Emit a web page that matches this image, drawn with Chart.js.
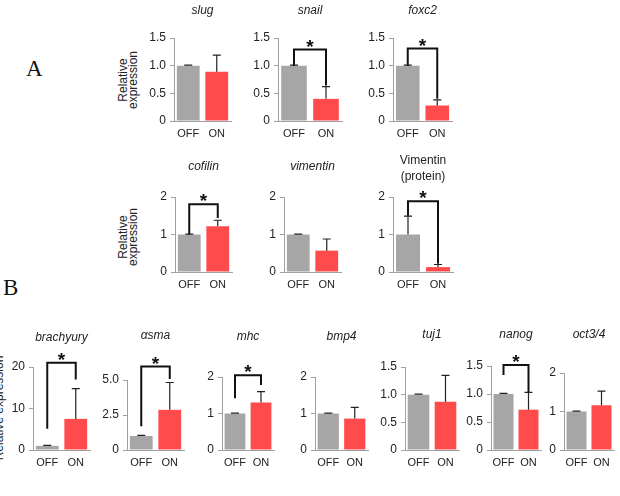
<!DOCTYPE html>
<html lang="en">
<head>
    <meta charset="UTF-8">
    <title>Relative expression OFF / ON</title>
    <script src="https://cdn.jsdelivr.net/npm/chart.js"></script>
    <style>
        body {
            margin: 0;
            background: #fff;
            font-family: 'Liberation Sans', Arial, sans-serif;
        }
        #fig {
            position: relative;
            width: 620px;
            height: 496px;
            overflow: hidden;
            background: #fff;
        }
        #fig canvas {
            position: absolute;
        }
        .letter {
            position: absolute;
            font-family: 'Liberation Serif', 'DejaVu Serif', serif;
            font-size: 23px;
            color: #111;
        }
        .ylab {
            position: absolute;
            width: 120px;
            text-align: center;
            font-size: 12px;
            line-height: 10px;
            color: #222;
            transform: translate(-50%, -50%) rotate(-90deg);
            white-space: nowrap;
        }
    </style>
</head>
<body>
<div id="fig">
    <div class="letter" style="left:26px; top:56px;">A</div>
    <div class="letter" style="left:3px; top:275px;">B</div>
    <div class="ylab" style="left:128px; top:80px;">Relative<br>expression</div>
    <div class="ylab" style="left:128px; top:237px;">Relative<br>expression</div>
    <div class="ylab" style="left:-1px; top:408px;">Relative expression</div>
</div>
<script>
    const groups = ['OFF', 'ON'];

    // y axis ticks
    const ticks15 = [0, 0.5, 1.0, 1.5];
    const labels15 = ['0', '0.5', '1.0', '1.5'];
    const ticks2 = [0, 1, 2];
    const labels2 = ['0', '1', '2'];
    const ticks20 = [0, 10, 20];
    const labels20 = ['0', '10', '20'];
    const ticks5 = [0, 2.5, 5.0];
    const labels5 = ['0', '2.5', '5.0'];

    // panel A: mean, error (upper), bracket [left end, top, right end]
    const slugMean = [1.0, 0.89];
    const slugErr = [0.01, 0.30];
    const snailMean = [1.0, 0.40];
    const snailErr = [0.01, 0.22];
    const snailBracket = [1.0, 1.29, 0.64];
    const foxc2Mean = [1.0, 0.28];
    const foxc2Err = [0.01, 0.10];
    const foxc2Bracket = [1.0, 1.31, 0.40];
    const cofilinMean = [1.0, 1.22];
    const cofilinErr = [0.01, 0.16];
    const cofilinBracket = [1.0, 1.81, 1.44];
    const vimentinMean = [1.0, 0.57];
    const vimentinErr = [0.01, 0.31];
    const vimProtMean = [1.0, 0.13];
    const vimProtErr = [0.49, 0.07];
    const vimProtBracket = [1.5, 1.89, 0.22];

    // panel B
    const brachyuryMean = [1.0, 7.5];
    const brachyuryErr = [0.1, 7.3];
    const brachyuryBracket = [5.1, 21, 17];
    const asmaMean = [1.0, 2.87];
    const asmaErr = [0.05, 1.95];
    const asmaBracket = [1.7, 5.96, 5.07];
    const mhcMean = [1.0, 1.3];
    const mhcErr = [0.01, 0.3];
    const mhcBracket = [1.42, 2.05, 1.78];
    const bmp4Mean = [1.0, 0.86];
    const bmp4Err = [0.01, 0.31];
    const tuj1Mean = [1.0, 0.87];
    const tuj1Err = [0.01, 0.48];
    const nanogMean = [1.0, 0.72];
    const nanogErr = [0.01, 0.31];
    const nanogBracket = [1.34, 1.52, 1.03];
    const oct4Mean = [1.0, 1.16];
    const oct4Err = [0.01, 0.37];

    const GRAY = '#a6a6a6';
    const RED = '#ff4b4b';
    const AXIS = '#a0a0a0';
    const INK = '#222';
    const FONT = "'Liberation Sans', Arial, sans-serif";
    const Y_AXIS_W = 30;
    const X_AXIS_H = 20;

    // placement of each small chart (pixels in the figure)
    const panels = [
        { title: ['slug'], mean: slugMean, err: slugErr, ticks: ticks15, labels: labels15, axisX: 174, endX: 231, topPx: 38, bottomPx: 121, titleY: [11] },
        { title: ['snail'], mean: snailMean, err: snailErr, bracket: snailBracket, ticks: ticks15, labels: labels15, axisX: 278, endX: 342, topPx: 38, bottomPx: 121, titleY: [11] },
        { title: ['foxc2'], mean: foxc2Mean, err: foxc2Err, bracket: foxc2Bracket, ticks: ticks15, labels: labels15, axisX: 393, endX: 452, topPx: 38, bottomPx: 121, titleY: [11] },
        { title: ['cofilin'], mean: cofilinMean, err: cofilinErr, bracket: cofilinBracket, ticks: ticks2, labels: labels2, axisX: 175, endX: 232, topPx: 197, bottomPx: 272, titleY: [167] },
        { title: ['vimentin'], mean: vimentinMean, err: vimentinErr, ticks: ticks2, labels: labels2, axisX: 284, endX: 341, topPx: 197, bottomPx: 272, titleY: [167] },
        { title: ['Vimentin', '(protein)'], upright: true, mean: vimProtMean, err: vimProtErr, bracket: vimProtBracket, ticks: ticks2, labels: labels2, axisX: 393, endX: 453, topPx: 197, bottomPx: 272, titleY: [161, 177] },
        { title: ['brachyury'], mean: brachyuryMean, err: brachyuryErr, bracket: brachyuryBracket, ticks: ticks20, labels: labels20, axisX: 33, endX: 90, topPx: 367, bottomPx: 450, titleY: [338] },
        { title: ['\u03b1sma'], mean: asmaMean, err: asmaErr, bracket: asmaBracket, ticks: ticks5, labels: labels5, axisX: 127, endX: 184, topPx: 380, bottomPx: 450, titleY: [336] },
        { title: ['mhc'], mean: mhcMean, err: mhcErr, bracket: mhcBracket, ticks: ticks2, labels: labels2, axisX: 222, endX: 274, topPx: 377, bottomPx: 450, titleY: [337] },
        { title: ['bmp4'], mean: bmp4Mean, err: bmp4Err, ticks: ticks2, labels: labels2, axisX: 315, endX: 368, topPx: 377, bottomPx: 450, titleY: [337] },
        { title: ['tuj1'], mean: tuj1Mean, err: tuj1Err, ticks: ticks15, labels: labels15, axisX: 405, endX: 459, topPx: 367, bottomPx: 450, titleY: [335] },
        { title: ['nanog'], mean: nanogMean, err: nanogErr, bracket: nanogBracket, ticks: ticks15, labels: labels15, axisX: 491, endX: 541, topPx: 366, bottomPx: 450, titleY: [335] },
        { title: ['oct3/4'], mean: oct4Mean, err: oct4Err, ticks: ticks2, labels: labels2, axisX: 564, endX: 614, topPx: 373, bottomPx: 450, titleY: [335] }
    ];

    // error bars, significance brackets and the gene title
    const decor = {
        id: 'decor',
        afterDatasetsDraw(chart, args, opts) {
            const ctx = chart.ctx;
            const y = chart.scales.y;
            const bars = chart.getDatasetMeta(0).data;
            const p = opts.panel;
            ctx.save();
            ctx.strokeStyle = INK;
            ctx.lineWidth = 1.2;
            p.mean.forEach((m, i) => {
                const x = bars[i].x;
                const y0 = y.getPixelForValue(m);
                const y1 = y.getPixelForValue(m + p.err[i]);
                ctx.beginPath();
                ctx.moveTo(x, y0);
                ctx.lineTo(x, y1);
                ctx.moveTo(x - 4, y1);
                ctx.lineTo(x + 4, y1);
                ctx.stroke();
            });
            if (p.bracket) {
                const xL = bars[0].x, xR = bars[1].x;
                const yT = y.getPixelForValue(p.bracket[1]);
                ctx.lineWidth = 2;
                ctx.strokeStyle = '#111';
                ctx.beginPath();
                ctx.moveTo(xL, y.getPixelForValue(p.bracket[0]));
                ctx.lineTo(xL, yT);
                ctx.lineTo(xR, yT);
                ctx.lineTo(xR, y.getPixelForValue(p.bracket[2]));
                ctx.stroke();
                ctx.fillStyle = '#111';
                ctx.font = 'bold 19px ' + FONT;
                ctx.textAlign = 'center';
                ctx.textBaseline = 'alphabetic';
                ctx.fillText('*', (xL + xR) / 2, yT + 3);
            }
            ctx.fillStyle = INK;
            ctx.font = (p.upright ? '' : 'italic ') + '12px ' + FONT;
            ctx.textAlign = 'center';
            ctx.textBaseline = 'middle';
            const cx = (chart.chartArea.left + chart.chartArea.right) / 2;
            p.title.forEach((t, i) => ctx.fillText(t, cx, p.titleY[i] - opts.top));
            ctx.restore();
        }
    };

    function makeChart(p) {
        const fig = document.getElementById('fig');
        const canvas = document.createElement('canvas');
        const top = Math.min(...p.titleY) - 10;
        const left = p.axisX - Y_AXIS_W;
        const width = p.endX - p.axisX + Y_AXIS_W + 3;
        const height = p.bottomPx - top + X_AXIS_H;
        canvas.width = width;
        canvas.height = height;
        canvas.style.left = left + 'px';
        canvas.style.top = top + 'px';
        canvas.style.width = width + 'px';
        canvas.style.height = height + 'px';
        fig.appendChild(canvas);

        new Chart(canvas.getContext('2d'), {
            type: 'bar',
            data: {
                labels: groups,
                datasets: [{
                    data: p.mean,
                    backgroundColor: [GRAY, RED],
                    borderWidth: 0,
                    barPercentage: 0.8,
                    categoryPercentage: 1.0
                }]
            },
            options: {
                responsive: false,
                animation: false,
                devicePixelRatio: 1,
                layout: { padding: { top: p.topPx - top, right: 3, left: 0, bottom: 0 } },
                plugins: {
                    legend: { display: false },
                    tooltip: { enabled: false },
                    decor: { panel: p, top: top }
                },
                scales: {
                    x: {
                        grid: { display: false, drawTicks: false },
                        border: { display: true, color: AXIS },
                        ticks: { color: INK, font: { family: FONT, size: 11 }, padding: 6, maxRotation: 0 },
                        afterFit: s => { s.height = X_AXIS_H; }
                    },
                    y: {
                        min: 0,
                        max: p.ticks[p.ticks.length - 1],
                        afterBuildTicks: s => { s.ticks = p.ticks.map(v => ({ value: v })); },
                        ticks: {
                            color: INK,
                            font: { family: FONT, size: 12 },
                            padding: 4,
                            callback: (v, i) => p.labels[i]
                        },
                        grid: { drawOnChartArea: false, drawTicks: true, tickLength: 4, color: AXIS },
                        border: { display: true, color: AXIS },
                        afterFit: s => { s.width = Y_AXIS_W; }
                    }
                }
            },
            plugins: [decor]
        });
    }

    document.addEventListener('DOMContentLoaded', function () {
        panels.forEach(makeChart);
    });
</script>
</body>
</html>
